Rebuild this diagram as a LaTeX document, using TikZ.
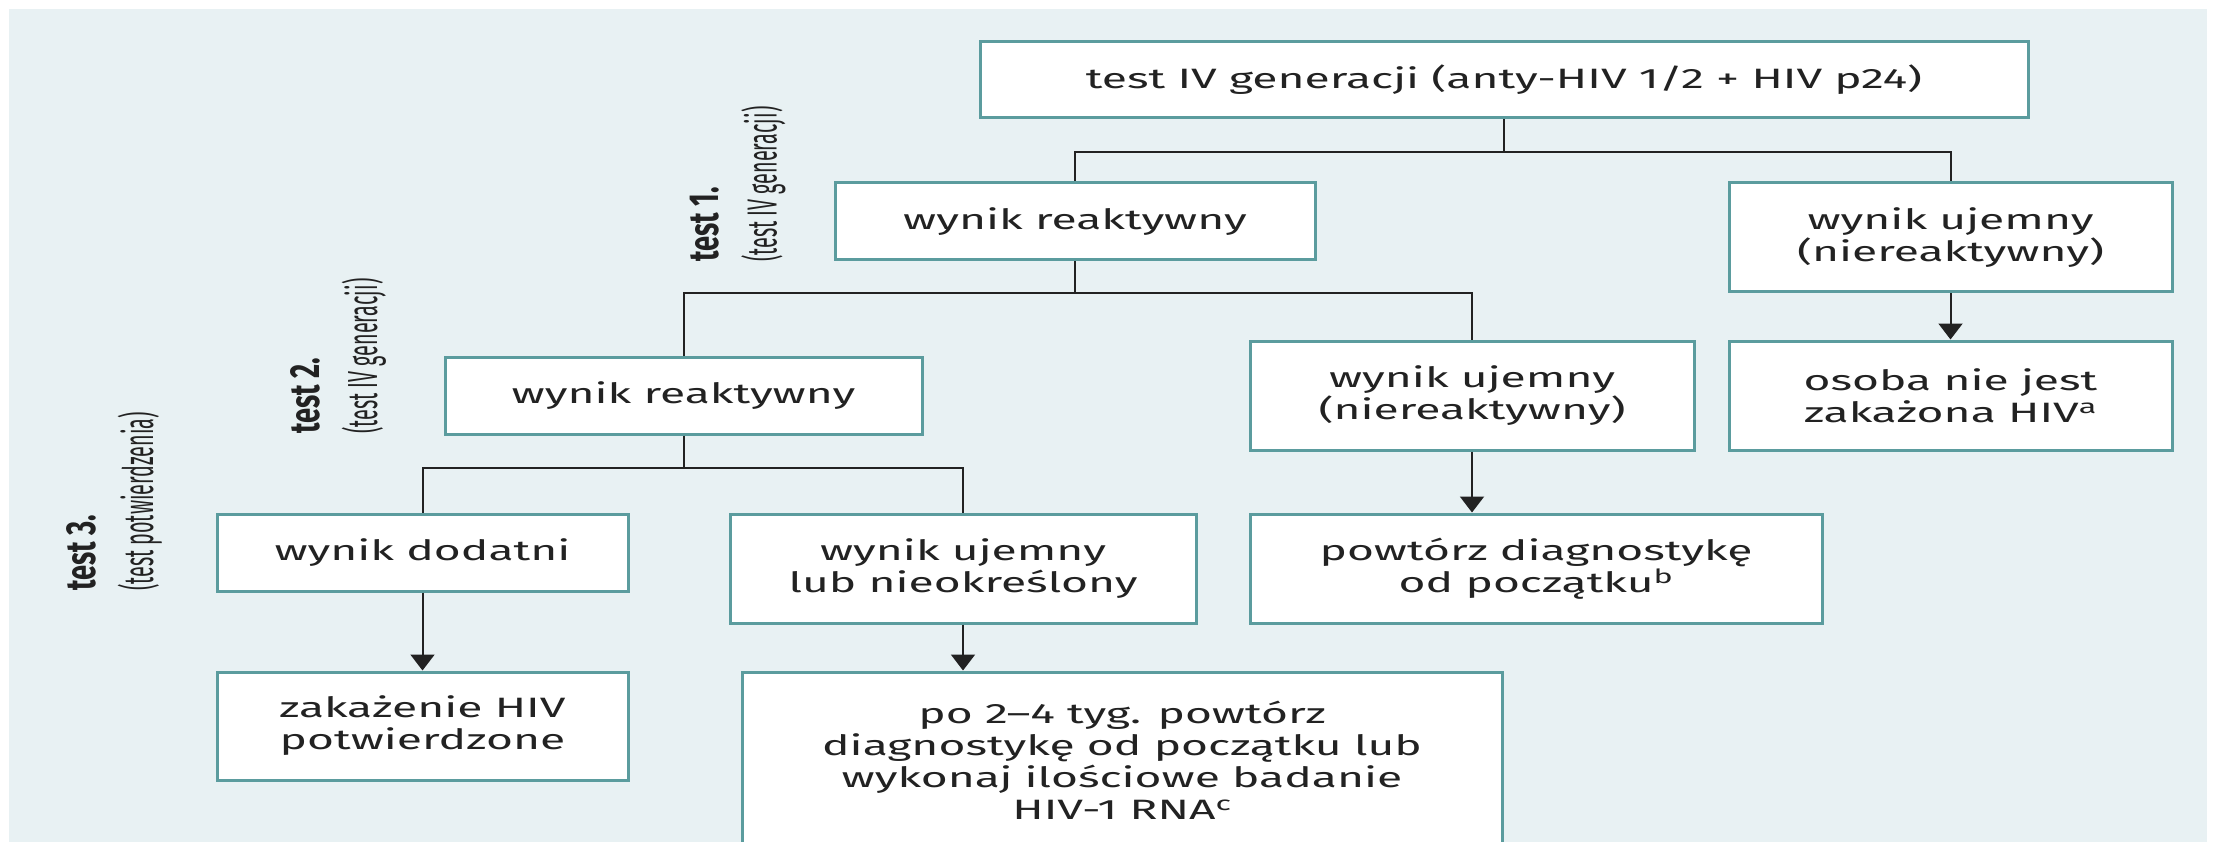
\documentclass[tikz,border=0pt]{standalone}
\usepackage{fontspec}
\setmainfont{Fira Sans}[FakeStretch=1.65]
\newfontfamily\sidefont{Fira Sans}[FakeStretch=0.47]
\newfontfamily\sidehead{Fira Sans}[FakeStretch=0.65]
\usepackage{xcolor}
\usepackage{tikz}
\usetikzlibrary{positioning, arrows.meta, calc}
\definecolor{panelbg}{HTML}{E8F1F3}
\definecolor{boxedge}{HTML}{5B9C9E}
\definecolor{ink}{HTML}{222222}

\tikzset{
  box/.style={draw=boxedge, line width=3pt, fill=white, align=center, text=ink,
              inner sep=0pt, font=\fontsize{28}{32}\selectfont},
  link/.style={draw=ink, line width=2pt},
  arr/.style={link, -{Triangle[width=24pt, length=16pt]}},
  side/.style={rotate=90, anchor=north west, align=left, inner sep=0pt, text=ink,
               font=\sidefont\fontsize{42}{58}\selectfont}
}
\newcommand{\sidetitle}[1]{{\sidehead\bfseries #1}}

\begin{document}
\begin{tikzpicture}[x=1pt, y=-1pt]
    \useasboundingbox (0,0) rectangle (2227,842);
    \clip (0,0) rectangle (2227,842);
    \fill[panelbg] (9,9) rectangle (2207,842);

    \node[box, minimum width=1048pt, minimum height=76pt] (top) at (1504,80)
      {test IV generacji (anty-HIV 1/2 + HIV p24)};
    \node[box, minimum width=480pt, minimum height=77pt] (r1) at (1075,221.5)
      {wynik reaktywny};
    \node[box, minimum width=443pt, minimum height=109pt] (n1) at (1950.5,237.5)
      {wynik ujemny\\(niereaktywny)};
    \node[box, minimum width=477pt, minimum height=77pt] (r2) at (683.5,395.5)
      {wynik reaktywny};
    \node[box, minimum width=444pt, minimum height=109pt] (n2) at (1472,395.5)
      {wynik ujemny\\(niereaktywny)};
    \node[box, minimum width=443pt, minimum height=109pt] (o1) at (1950.5,395.5)
      {osoba nie jest\\zakażona HIV\textsuperscript{a}};
    \node[box, minimum width=411pt, minimum height=77pt] (d1) at (422.5,552.5)
      {wynik dodatni};
    \node[box, minimum width=466pt, minimum height=109pt] (u2) at (963,568.5)
      {wynik ujemny\\lub nieokreślony};
    \node[box, minimum width=572pt, minimum height=109pt] (p1) at (1536,568.5)
      {powtórz diagnostykę\\od początku\textsuperscript{b}};
    \node[box, minimum width=411pt, minimum height=108pt] (z1) at (422.5,726)
      {zakażenie HIV\\potwierdzone};
    \node[box, minimum width=760pt, minimum height=176pt] (p2) at (1122,760)
      {po 2--4 tyg. powtórz\\diagnostykę od początku lub\\wykonaj ilościowe badanie\\HIV-1 RNA\textsuperscript{c}};

    \node[side] (t1) at (690,262) {\sidetitle{test 1.}\\(test IV generacji)};
    \node[side] (t2) at (290,434) {\sidetitle{test 2.}\\(test IV generacji)};
    \node[side] (t3) at (66,591) {\sidetitle{test 3.}\\(test potwierdzenia)};

    \draw[link] (top.south) -- ++(0,33) coordinate (s1) -| (r1.north);
    \draw[link] (s1) -| (n1.north);
    \draw[link] (r1.south) -- ++(0,32) coordinate (s2) -| (r2.north);
    \draw[link] (s2) -| (n2.north);
    \draw[link] (r2.south) -- ++(0,32) coordinate (s3) -| (d1.north);
    \draw[link] (s3) -| (u2.north);

    \draw[arr] (n1.south) -- (o1.north);
    \draw[arr] (n2.south) -- (n2.south |- p1.north);
    \draw[arr] (d1.south) -- (z1.north);
    \draw[arr] (u2.south) -- (u2.south |- p2.north);
  \end{tikzpicture}
\end{document}
